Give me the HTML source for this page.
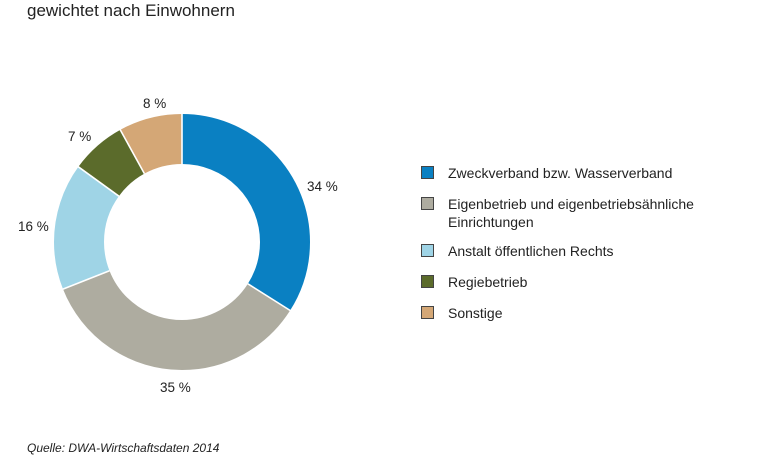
<!DOCTYPE html>
<html><head><meta charset="utf-8"><style>
body{margin:0;width:770px;height:450px;overflow:hidden;background:#fff;font-family:"Liberation Sans",sans-serif;color:#222;position:relative}
.t{position:absolute;white-space:nowrap}
.sq{position:absolute;left:421px;width:13px;height:13px;border:1px solid #444;box-sizing:border-box}
.lg{position:absolute;left:448px;font-size:14px;line-height:18px}
</style></head><body>
<div class="t" style="left:27px;top:1px;font-size:17px">gewichtet nach Einwohnern</div>
<svg width="770" height="450" style="position:absolute;left:0;top:0">
<g transform="rotate(-90 182 242)" fill="none" stroke-width="50">
<circle cx="182" cy="242" r="103" stroke="#0a80c2" stroke-dasharray="220.04 647.17" stroke-dashoffset="0"/>
<circle cx="182" cy="242" r="103" stroke="#aeaca0" stroke-dasharray="226.51 647.17" stroke-dashoffset="-220.04"/>
<circle cx="182" cy="242" r="103" stroke="#9fd4e6" stroke-dasharray="103.55 647.17" stroke-dashoffset="-446.55"/>
<circle cx="182" cy="242" r="103" stroke="#5b6b2b" stroke-dasharray="45.30 647.17" stroke-dashoffset="-550.10"/>
<circle cx="182" cy="242" r="103" stroke="#d4a776" stroke-dasharray="51.77 647.17" stroke-dashoffset="-595.40"/>
</g>
<g stroke="#fff" stroke-width="1.6">
<line x1="182" y1="165" x2="182" y2="113"/>
<line x1="247.9" y1="283.8" x2="291" y2="311"/>
<line x1="109.5" y1="270.7" x2="62" y2="289.5"/>
<line x1="118.9" y1="196.2" x2="77.5" y2="166.2"/>
<line x1="144.4" y1="173.6" x2="119.8" y2="129"/>
</g>
<g font-family="Liberation Sans,sans-serif" font-size="13.5" fill="#222">
<text x="307" y="191">34 %</text>
<text x="160" y="392">35 %</text>
<text x="18" y="231">16 %</text>
<text x="68" y="141">7 %</text>
<text x="143" y="108">8 %</text>
</g>
</svg>
<div class="sq" style="top:166px;background:#0a80c2"></div><div class="lg" style="top:164px">Zweckverband bzw. Wasserverband</div>
<div class="sq" style="top:197px;background:#aeaca0"></div><div class="lg" style="top:195px">Eigenbetrieb und eigenbetriebsähnliche<br>Einrichtungen</div>
<div class="sq" style="top:244px;background:#9fd4e6"></div><div class="lg" style="top:242px">Anstalt öffentlichen Rechts</div>
<div class="sq" style="top:275px;background:#5b6b2b"></div><div class="lg" style="top:273px">Regiebetrieb</div>
<div class="sq" style="top:306px;background:#d4a776"></div><div class="lg" style="top:304px">Sonstige</div>
<div class="t" style="left:27px;top:441px;font-size:12px;font-style:italic">Quelle: DWA-Wirtschaftsdaten 2014</div>
</body></html>
